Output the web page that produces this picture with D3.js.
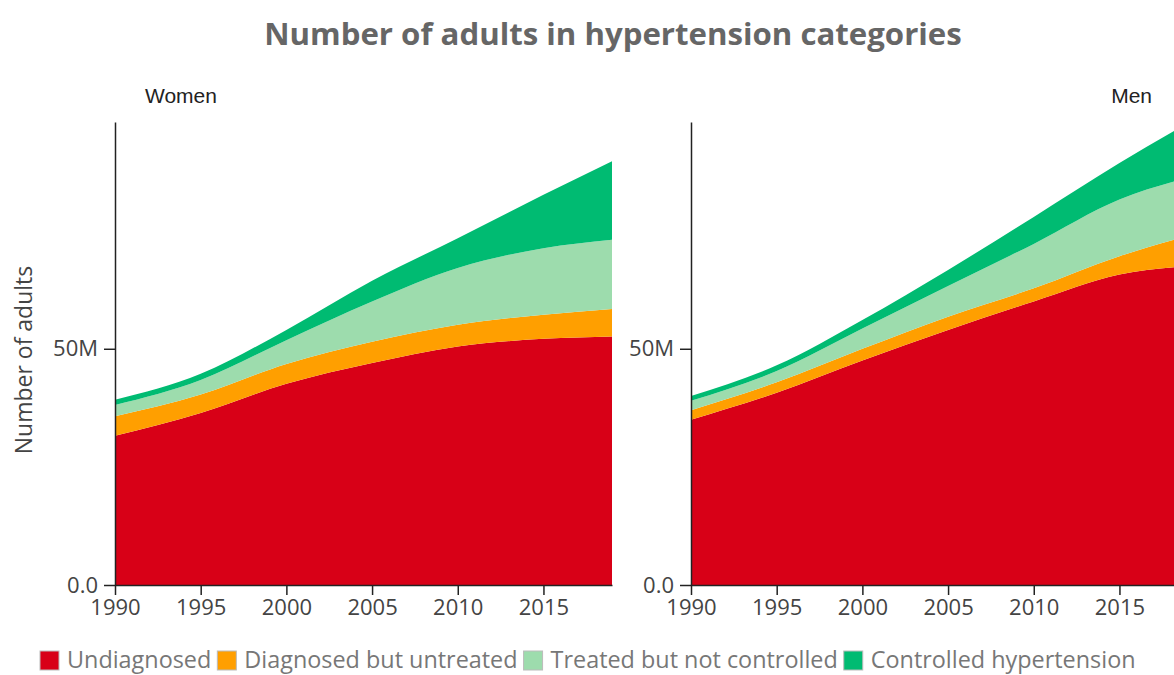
<!DOCTYPE html>
<html>
<head>
<meta charset="utf-8">
<script src="https://cdn.jsdelivr.net/npm/d3@7"></script>
<style>
  body { margin: 0; background: #fff; }
  svg { display: block; font-family: "Open Sans", sans-serif; }
</style>
</head>
<body>
<svg id="chart" width="1174" height="675"></svg>
<script>
// values in millions of adults
const years = [1990, 1995, 2000, 2005, 2010, 2015, 2019];
const categories = ["Undiagnosed", "Diagnosed but untreated", "Treated but not controlled", "Controlled hypertension"];
const colors = ["#d80017", "#ff9f00", "#9ddcad", "#00bb72"];

const womenUndiagnosed = [31.6, 36.4, 42.6, 47.0, 50.5, 52.1, 52.6];
const womenUntreated   = [4.1, 3.9, 4.2, 4.5, 4.6, 5.1, 5.8];
const womenUncontrolled= [2.4, 3.1, 5.0, 8.5, 12.0, 14.1, 14.7];
const womenControlled  = [1.1, 1.3, 2.2, 4.4, 6.3, 11.3, 16.6];

const menUndiagnosed = [35.0, 40.7, 47.5, 54.0, 60.0, 65.7, 67.5];
const menUntreated   = [2.0, 2.2, 2.5, 2.8, 2.8, 3.9, 6.4];
const menUncontrolled= [2.0, 2.4, 4.3, 6.5, 9.4, 12.0, 12.3];
const menControlled  = [1.0, 1.2, 1.8, 3.4, 5.7, 7.7, 11.6];

const yTicks = [0, 50];
const xTicks = [1990, 1995, 2000, 2005, 2010, 2015];

const svg = d3.select("#chart");
const plotTop = 122, plotBottom = 585, panelW = 497;

svg.append("text")
    .attr("x", 613).attr("y", 45)
    .attr("text-anchor", "middle")
    .attr("font-size", 31.2).attr("font-weight", 700)
    .attr("fill", "#666")
    .text("Number of adults in hypertension categories");

svg.append("text")
    .attr("transform", "translate(32,360) rotate(-90)")
    .attr("text-anchor", "middle")
    .attr("font-size", 23).attr("fill", "#444")
    .text("Number of adults");

const y = d3.scaleLinear().domain([0, 98]).range([plotBottom, plotTop]);

function drawPanel(left, label, labelAnchor, labelX, series) {
    const x = d3.scaleLinear().domain([1990, 2019]).range([left, left + panelW]);
    const rows = years.map((yr, i) => {
        const r = { year: yr };
        categories.forEach((c, k) => r[c] = series[k][i]);
        return r;
    });
    const stacked = d3.stack().keys(categories)(rows);
    const area = d3.area()
        .curve(d3.curveMonotoneX)
        .x(d => x(d.data.year))
        .y0(d => y(d[0]))
        .y1(d => y(d[1]));
    const g = svg.append("g");
    g.selectAll("path.layer")
        .data(stacked)
        .enter().append("path")
        .attr("class", "layer")
        .attr("d", area)
        .attr("fill", (d, i) => colors[i]);

    const yAxis = g.append("g")
        .attr("transform", "translate(" + left + ",0)")
        .call(d3.axisLeft(y).tickValues(yTicks).tickSizeInner(11).tickSizeOuter(0).tickPadding(6)
            .tickFormat(d => d === 0 ? "0.0" : d + "M"));
    const xAxis = g.append("g")
        .attr("transform", "translate(0," + plotBottom + ")")
        .call(d3.axisBottom(x).tickValues(xTicks).tickSizeInner(10).tickSizeOuter(0).tickPadding(4)
            .tickFormat(d3.format("d")));
    [yAxis, xAxis].forEach(a => {
        a.selectAll("path").attr("stroke", "#222").attr("stroke-width", 1.5);
        a.selectAll("line").attr("stroke", "#222").attr("stroke-width", 1.5);
        a.selectAll("text").attr("font-size", 22).attr("fill", "#444")
            .attr("font-family", "'Open Sans', sans-serif");
    });

    svg.append("text")
        .attr("x", labelX).attr("y", 103)
        .attr("text-anchor", labelAnchor)
        .attr("font-family", "'Liberation Sans', Arial, sans-serif")
        .attr("font-size", 21).attr("fill", "#222")
        .text(label);
}

drawPanel(115, "Women", "start", 145, [womenUndiagnosed, womenUntreated, womenUncontrolled, womenControlled]);
drawPanel(691, "Men", "end", 1152, [menUndiagnosed, menUntreated, menUncontrolled, menControlled]);

// legend, packed one after the other
const legend = svg.append("g");
let lx = 40;
categories.forEach((c, i) => {
    legend.append("rect")
        .attr("x", lx).attr("y", 651)
        .attr("width", 19).attr("height", 19)
        .attr("fill", colors[i])
        .attr("stroke", "#bbb").attr("stroke-width", 1);
    const t = legend.append("text")
        .attr("x", lx + 27).attr("y", 668)
        .attr("font-size", 23.4).attr("fill", "#777")
        .text(c);
    lx += 27 + t.node().getComputedTextLength() + 6;
});
</script>
</body>
</html>
